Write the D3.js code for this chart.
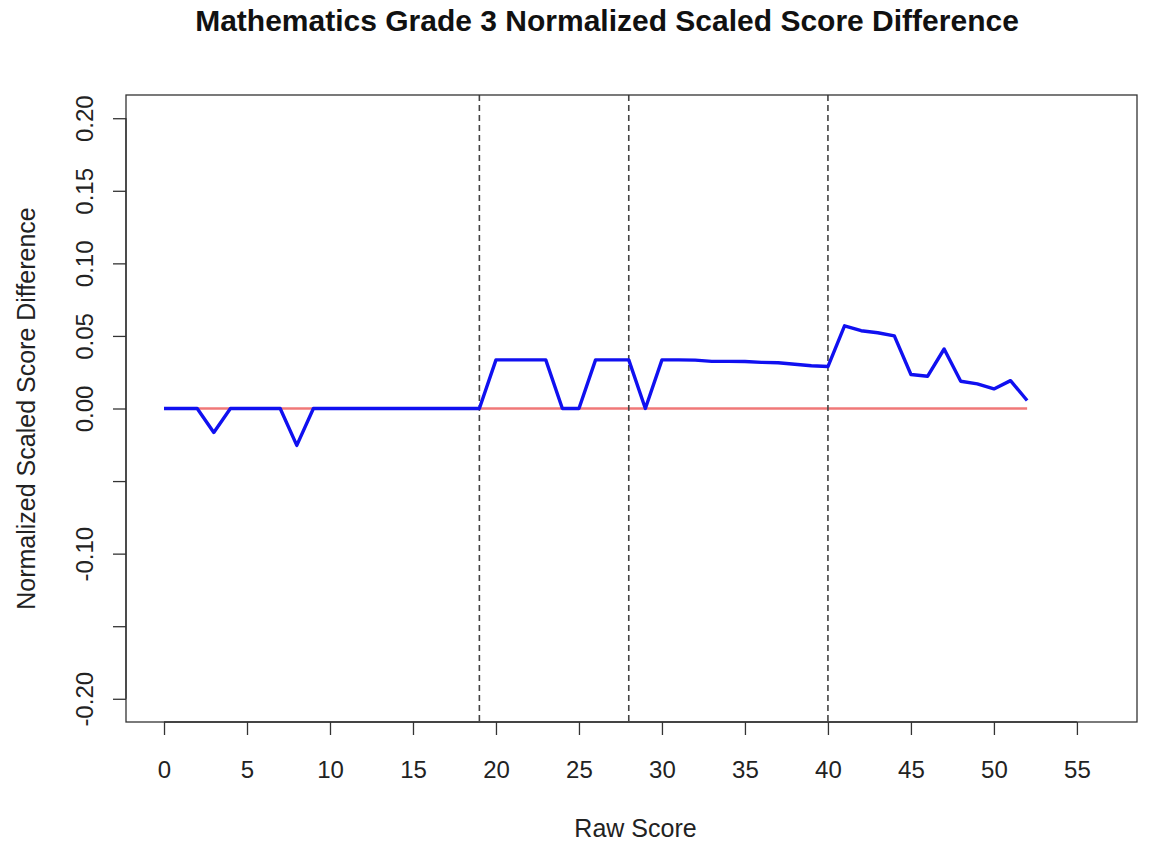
<!DOCTYPE html>
<html>
<head>
<meta charset="utf-8">
<script src="https://cdn.jsdelivr.net/npm/d3@7"></script>
<style>
  html, body { margin: 0; padding: 0; background: #fff; }
  svg { display: block; font-family: "Liberation Sans", Arial, sans-serif; }
</style>
</head>
<body>
<svg id="chart" width="1155" height="846"></svg>
<script>
// Raw score points and the normalized scaled score difference at each one
const rawScores = d3.range(0, 53);
const scoreDiff = [
  0, 0, 0, -0.0165, 0, 0, 0, 0, -0.0254, 0,
  0, 0, 0, 0, 0, 0, 0, 0, 0, 0,
  0.0335, 0.0335, 0.0335, 0.0335, 0, 0, 0.0335, 0.0335, 0.0335, 0,
  0.0335, 0.0335, 0.0333, 0.0325, 0.0325, 0.0324, 0.0318, 0.0315, 0.0305, 0.0295,
  0.0289, 0.057, 0.0536, 0.0522, 0.050, 0.0234, 0.0222, 0.041, 0.0188, 0.017,
  0.0135, 0.0192, 0.0055
];
const cutScores = [19, 28, 40];
const xTicks = [0, 5, 10, 15, 20, 25, 30, 35, 40, 45, 50, 55];
const yTicks = [-0.20, -0.15, -0.10, -0.05, 0.00, 0.05, 0.10, 0.15, 0.20];
const yTickLabels = ["-0.20", "", "-0.10", "", "0.00", "0.05", "0.10", "0.15", "0.20"];

const svg = d3.select("#chart");
const box = { left: 126, right: 1137, top: 95, bottom: 722 };
const ink = "#222";

// x domain padded like R's default 4% extension of the axis range
const x = d3.scaleLinear().domain([-2.29, 58.62]).range([box.left, box.right]);
const y = d3.scaleLinear().domain([-0.216, 0.216]).range([box.bottom, box.top]);

// Title
svg.append("text")
  .attr("x", 607).attr("y", 31)
  .attr("text-anchor", "middle")
  .style("font-size", "30px").attr("font-weight", "bold")
  .attr("fill", "#111")
  .text("Mathematics Grade 3 Normalized Scaled Score Difference");

// Zero reference line
svg.append("line")
  .attr("x1", x(0)).attr("x2", x(52))
  .attr("y1", y(0)).attr("y2", y(0))
  .attr("stroke", "#f07878").attr("stroke-width", 2.5);

// Cut-score markers
svg.selectAll("line.cut").data(cutScores).join("line")
  .attr("class", "cut")
  .attr("x1", d => x(d)).attr("x2", d => x(d))
  .attr("y1", box.top).attr("y2", box.bottom)
  .attr("stroke", "#444").attr("stroke-width", 1.6)
  .attr("stroke-dasharray", "6,4");

// Difference series
const line = d3.line().x((d, i) => x(rawScores[i])).y(d => y(d));
svg.append("path")
  .datum(scoreDiff)
  .attr("d", line)
  .attr("fill", "none")
  .attr("stroke", "#1010f0")
  .attr("stroke-width", 3.4)
  .attr("stroke-linejoin", "round");

// Plot frame
svg.append("rect")
  .attr("x", box.left).attr("y", box.top)
  .attr("width", box.right - box.left).attr("height", box.bottom - box.top)
  .attr("fill", "none").attr("stroke", "#333").attr("stroke-width", 1.3);

// Bottom axis
const xAxis = svg.append("g")
  .attr("transform", `translate(0,${box.bottom})`)
  .call(d3.axisBottom(x).tickValues(xTicks).tickSize(13).tickSizeOuter(0));
xAxis.select(".domain")
  .attr("d", `M${x(0)},0H${x(55)}`)
  .attr("stroke", "#333").attr("stroke-width", 1.3);
xAxis.selectAll(".tick line").attr("stroke", "#333").attr("stroke-width", 1.3);
xAxis.selectAll(".tick text")
  .style("font-size", "24px").attr("fill", ink)
  .attr("font-family", "Liberation Sans, Arial, sans-serif")
  .attr("dy", null)
  .attr("y", 778 - box.bottom);

// Left axis with vertical labels
const yAxis = svg.append("g")
  .attr("transform", `translate(${box.left},0)`)
  .call(d3.axisLeft(y).tickValues(yTicks).tickSize(13).tickSizeOuter(0)
    .tickFormat((d, i) => yTickLabels[i]));
yAxis.select(".domain")
  .attr("d", `M0,${y(-0.2)}V${y(0.2)}`)
  .attr("stroke", "#333").attr("stroke-width", 1.3);
yAxis.selectAll(".tick line").attr("stroke", "#333").attr("stroke-width", 1.3);
yAxis.selectAll(".tick text")
  .style("font-size", "24px").attr("fill", ink)
  .attr("font-family", "Liberation Sans, Arial, sans-serif")
  .attr("x", null).attr("dy", null)
  .attr("text-anchor", "middle")
  .attr("transform", "translate(-33,0) rotate(-90)")
  .attr("y", 0);

// Axis titles
svg.append("text")
  .attr("x", (box.left + box.right) / 2 + 4).attr("y", 837)
  .attr("text-anchor", "middle")
  .style("font-size", "25px").attr("fill", ink)
  .text("Raw Score");

svg.append("text")
  .attr("transform", `translate(35,${y(0)}) rotate(-90)`)
  .attr("text-anchor", "middle")
  .style("font-size", "25px").attr("fill", ink)
  .text("Normalized Scaled Score Difference");
</script>
</body>
</html>
